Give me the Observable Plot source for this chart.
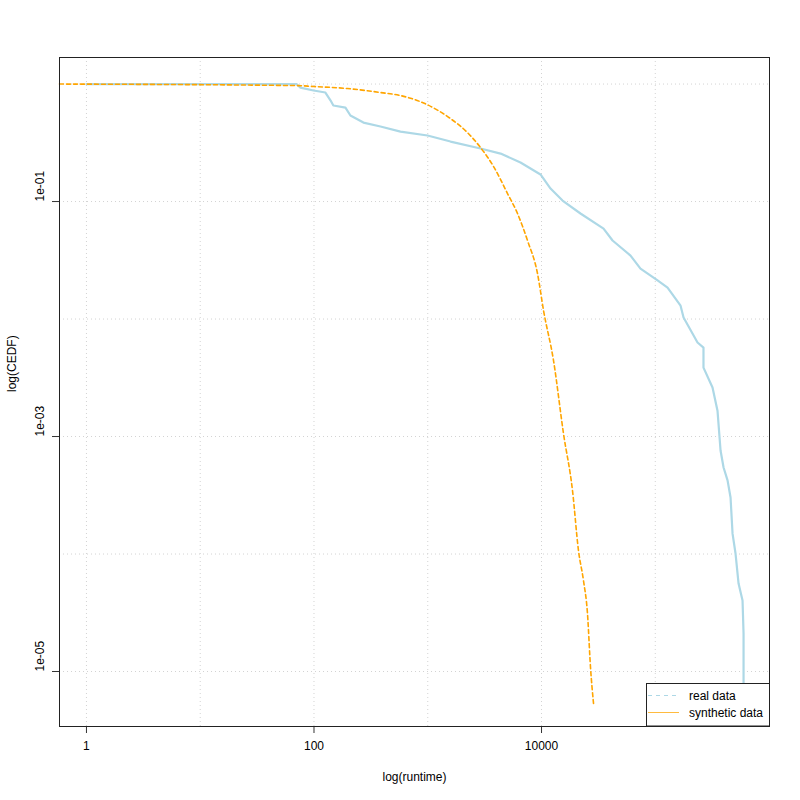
<!DOCTYPE html>
<html>
<head>
<meta charset="utf-8">
<script src="https://cdn.jsdelivr.net/npm/d3@7"></script>
<script src="https://cdn.jsdelivr.net/npm/@observablehq/plot@0.6"></script>
<style>
  html, body { margin: 0; padding: 0; background: white; }
  #chart svg { display: block; }
</style>
</head>
<body>
<div id="chart"></div>
<script>
// Real data (empirical CEDF of runtime)
const realRuntime = [1, 70.2, 76, 99, 126, 140, 148, 189, 209, 272, 384, 576, 995, 1585, 2910, 4365, 6535, 9795, 12000, 15300, 22000, 35100, 42100, 60600, 74100, 104700, 128200, 166800, 177200, 235100, 265300, 265300, 318500, 352300, 374700, 398300, 431800, 458800, 477800, 507400, 539600, 584800, 597000, 597000];
const realCEDF = [1, 1, 0.933, 0.881, 0.847, 0.724, 0.657, 0.631, 0.540, 0.470, 0.435, 0.394, 0.365, 0.324, 0.283, 0.256, 0.215, 0.170, 0.129, 0.102, 0.0791, 0.0589, 0.0466, 0.0347, 0.0269, 0.0213, 0.0185, 0.0130, 0.0103, 0.00631, 0.00571, 0.00386, 0.00261, 0.00166, 0.00076, 0.000545, 0.000423, 0.000303, 0.000149, 0.000101, 0.0000561, 0.0000402, 0.0000210, 0.00000745];

// Synthetic data
const synRuntime = [0.579, 71.6, 99, 197, 384, 576, 995, 1585, 2236, 2910, 3785, 5025, 6150, 7530, 9220, 10420, 12750, 15600, 18720, 21130, 23380, 25350, 26960, 28650];
const synCEDF = [1, 0.970, 0.953, 0.916, 0.847, 0.798, 0.666, 0.508, 0.386, 0.288, 0.199, 0.117, 0.0791, 0.0466, 0.0244, 0.0118, 0.00443, 0.00106, 0.000347, 0.000107, 0.0000594, 0.0000312, 0.0000108, 0.00000535];

// Axis ticks and grid
const xTicks = [1, 100, 10000];
const xGrid = [1, 10, 100, 1000, 10000, 100000];
const yTicks = [1e-1, 1e-3, 1e-5];
const yGrid = [1, 1e-1, 1e-2, 1e-3, 1e-4, 1e-5];
const legendLabels = ["real data", "synthetic data"];

const real = realRuntime.map((x, i) => ({x, y: realCEDF[i]}));
const syn = synRuntime.map((x, i) => ({x, y: synCEDF[i]}));

const fmtY = d => {
  const e = Math.round(Math.log10(d));
  return "1e" + (e < 0 ? "-" : "+") + String(Math.abs(e)).padStart(2, "0");
};

const W = 800, H = 800;
const mL = 59, mR = 31, mT = 57, mB = 74;
const FONT = "'Liberation Sans', Arial, Helvetica, sans-serif";

const chart = Plot.plot({
  width: W,
  height: H,
  marginLeft: mL,
  marginRight: mR,
  marginTop: mT,
  marginBottom: mB,
  style: {fontFamily: FONT, fontSize: "12px", background: "white", color: "black"},
  x: {type: "log", domain: [Math.pow(10, -0.237), Math.pow(10, 6.004)]},
  y: {type: "log", domain: [Math.pow(10, -5.468), Math.pow(10, 0.226)]},
  marks: [
    Plot.ruleX(xGrid, {stroke: "#d3d3d3", strokeDasharray: "1,3", strokeWidth: 1}),
    Plot.ruleY(yGrid, {stroke: "#d3d3d3", strokeDasharray: "1,3", strokeWidth: 1}),
    Plot.line(real, {x: "x", y: "y", stroke: "#add8e6", strokeWidth: 2.2}),
    Plot.line(syn, {x: "x", y: "y", stroke: "#ffa500", strokeWidth: 1.6, strokeDasharray: "4,3", curve: "monotone-x"}),
    Plot.axisX({ticks: xTicks, tickFormat: d => String(d), tickSize: 7, tickPadding: 8, label: null, stroke: "#333"}),
    Plot.axisY({ticks: yTicks, tickFormat: () => "", tickSize: 7, label: null, stroke: "#333"}),
    Plot.text(yTicks, {y: d => d, text: fmtY, frameAnchor: "left", dx: -19, rotate: -90, fill: "black"}),
    Plot.text(["log(runtime)"], {frameAnchor: "bottom", dy: 54, fill: "black"}),
    Plot.text(["log(CEDF)"], {frameAnchor: "left", dx: -47, rotate: -90, fill: "black"}),
    Plot.frame({stroke: "#222", strokeWidth: 1})
  ]
});

document.getElementById("chart").appendChild(chart);

// Legend box in bottom-right corner of the plot area
const svg = d3.select(chart);
const right = W - mR, bottom = H - mB;
const bw = 123, bh = 43;
const g = svg.append("g").attr("transform", `translate(${right - bw},${bottom - bh})`);
g.append("rect").attr("x", 0.5).attr("y", 0.5).attr("width", bw).attr("height", bh - 0.5)
  .attr("fill", "white").attr("stroke", "#222").attr("stroke-width", 1);
const items = [
  {label: legendLabels[0], color: "#add8e6", dash: "4,4"},
  {label: legendLabels[1], color: "#ffa500", dash: null}
];
items.forEach((it, i) => {
  const yy = 12.5 + i * 17;
  const ln = g.append("line").attr("x1", 2).attr("x2", 33).attr("y1", yy).attr("y2", yy)
    .attr("stroke", it.color).attr("stroke-width", 1).attr("opacity", it.dash ? 1 : 0.75);
  if (it.dash) ln.attr("stroke-dasharray", it.dash);
  g.append("text").attr("x", 43).attr("y", yy).attr("dy", "0.35em")
    .attr("text-anchor", "start")
    .attr("font-family", FONT)
    .attr("font-size", 12).attr("fill", "black").text(it.label);
});
</script>
</body>
</html>
